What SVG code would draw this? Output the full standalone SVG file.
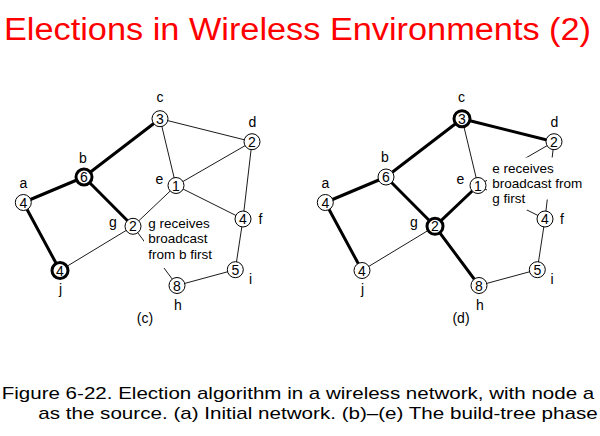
<svg xmlns="http://www.w3.org/2000/svg" width="600" height="436" viewBox="0 0 600 436">
<style>
.thin{stroke:#000;stroke-width:0.9;fill:none}
.thick{stroke:#000;stroke-width:3;fill:none;stroke-linecap:round}
.n{fill:#fff;stroke:#000;stroke-width:1}
.nb{fill:#fff;stroke:#000;stroke-width:3}
.v{font-family:"Liberation Sans",Arial,sans-serif;font-size:14px;text-anchor:middle;fill:#000}
.lb{font-family:"Liberation Sans",Arial,sans-serif;font-size:14px;text-anchor:middle;fill:#000}
.note{font-family:"Liberation Sans",Arial,sans-serif;font-size:13.5px;fill:#000}
.mask{fill:#fff;stroke:none}
.title{font-family:"Liberation Sans",Arial,sans-serif;font-size:31px;fill:#ff0000}
.cap{font-family:"Liberation Sans",Arial,sans-serif;font-size:17px;fill:#000}
</style>
<rect width="600" height="436" fill="#fff"/>
<text class="title" x="4" y="39.5" textLength="587" lengthAdjust="spacingAndGlyphs">Elections in Wireless Environments (2)</text>

<!-- Panel (c) -->
<g id="panel-c">
  <g id="c-connectors">
    <line class="thin" x1="160" y1="118.7" x2="252" y2="141.7"/>
    <line class="thin" x1="160" y1="118.7" x2="176" y2="185.5"/>
    <line class="thin" x1="252" y1="141.7" x2="176" y2="185.5"/>
    <line class="thin" x1="252" y1="141.7" x2="243" y2="219"/>
    <line class="thin" x1="176" y1="185.5" x2="243" y2="219"/>
    <line class="thin" x1="176" y1="185.5" x2="133" y2="226.3"/>
    <line class="thin" x1="133" y1="226.3" x2="60" y2="270.5"/>
    <line class="thin" x1="133" y1="226.3" x2="177" y2="285.5"/>
    <line class="thin" x1="243" y1="219" x2="235.3" y2="269.7"/>
    <line class="thin" x1="235.3" y1="269.7" x2="177" y2="285.5"/>
    <line class="thick" x1="160" y1="118.7" x2="84" y2="177"/>
    <line class="thick" x1="84" y1="177" x2="23.3" y2="202.5"/>
    <line class="thick" x1="84" y1="177" x2="133" y2="226.3"/>
    <line class="thick" x1="23.3" y1="202.5" x2="60" y2="270.5"/>
  </g>
  <g id="c-note">
    <rect class="mask" x="144" y="217" width="72" height="51"/>
    <text class="note" x="148.3" y="227.7">g receives</text>
    <text class="note" x="148.3" y="243.4">broadcast</text>
    <text class="note" x="148.3" y="259.2">from b first</text>
  </g>
  <g id="c-node-c"><circle class="n" cx="160" cy="118.7" r="8"/><text class="v" x="160" y="123.7">3</text><text class="lb" x="160" y="102">c</text></g>
  <g id="c-node-d"><circle class="n" cx="252" cy="141.7" r="8"/><text class="v" x="252" y="146.7">2</text><text class="lb" x="252.3" y="127">d</text></g>
  <g id="c-node-b"><circle class="nb" cx="84" cy="177" r="8"/><text class="v" x="84" y="182">6</text><text class="lb" x="83" y="163">b</text></g>
  <g id="c-node-e"><circle class="n" cx="176" cy="185.5" r="8"/><text class="v" x="176" y="190.5">1</text><text class="lb" x="159.5" y="183.5">e</text></g>
  <g id="c-node-a"><circle class="n" cx="23.3" cy="202.5" r="8"/><text class="v" x="23.3" y="207.5">4</text><text class="lb" x="23.3" y="188">a</text></g>
  <g id="c-node-f"><circle class="n" cx="243" cy="219" r="8"/><text class="v" x="243" y="224">4</text><text class="lb" x="260.5" y="224">f</text></g>
  <g id="c-node-g"><circle class="n" cx="133" cy="226.3" r="8"/><text class="v" x="133" y="231.3">2</text><text class="lb" x="112.8" y="227">g</text></g>
  <g id="c-node-j"><circle class="nb" cx="60" cy="270.5" r="8"/><text class="v" x="60" y="275.5">4</text><text class="lb" x="60.5" y="294">j</text></g>
  <g id="c-node-i"><circle class="n" cx="235.3" cy="269.7" r="8"/><text class="v" x="235.3" y="274.7">5</text><text class="lb" x="250.5" y="284">i</text></g>
  <g id="c-node-h"><circle class="n" cx="177" cy="285.5" r="8"/><text class="v" x="177" y="290.5">8</text><text class="lb" x="178" y="309.5">h</text></g>
  <text class="lb" x="145" y="323">(c)</text>
</g>

<!-- Panel (d) -->
<g id="panel-d" transform="translate(302,0)">
  <g id="d-connectors">
    <line class="thin" x1="160" y1="118.7" x2="176" y2="185.5"/>
    <line class="thin" x1="252" y1="141.7" x2="176" y2="185.5"/>
    <line class="thin" x1="252" y1="141.7" x2="243" y2="219"/>
    <line class="thin" x1="176" y1="185.5" x2="243" y2="219"/>
    <line class="thin" x1="133" y1="226.3" x2="60" y2="270.5"/>
    <line class="thin" x1="243" y1="219" x2="235.3" y2="269.7"/>
    <line class="thin" x1="235.3" y1="269.7" x2="177" y2="285.5"/>
    <line class="thick" x1="160" y1="118.7" x2="252" y2="141.7"/>
    <line class="thick" x1="160" y1="118.7" x2="84" y2="177"/>
    <line class="thick" x1="84" y1="177" x2="23.3" y2="202.5"/>
    <line class="thick" x1="84" y1="177" x2="133" y2="226.3"/>
    <line class="thick" x1="23.3" y1="202.5" x2="60" y2="270.5"/>
    <line class="thick" x1="133" y1="226.3" x2="176" y2="185.5"/>
    <line class="thick" x1="133" y1="226.3" x2="177" y2="285.5"/>
  </g>
  <g id="d-note">
    <rect class="mask" x="185" y="157.5" width="70" height="16"/>
    <rect class="mask" x="185" y="173.5" width="93" height="26"/>
    <rect class="mask" x="185" y="199.5" width="40" height="10.5"/>
    <text class="note" x="190.3" y="173.3">e receives</text>
    <text class="note" x="190.3" y="188.3">broadcast from</text>
    <text class="note" x="190.3" y="203.3">g first</text>
  </g>
  <g id="d-node-c"><circle class="nb" cx="160" cy="118.7" r="8"/><text class="v" x="160" y="123.7">3</text><text class="lb" x="159.5" y="102">c</text></g>
  <g id="d-node-d"><circle class="n" cx="252" cy="141.7" r="8"/><text class="v" x="252" y="146.7">2</text><text class="lb" x="252.3" y="127">d</text></g>
  <g id="d-node-b"><circle class="n" cx="84" cy="177" r="8"/><text class="v" x="84" y="182">6</text><text class="lb" x="83" y="162">b</text></g>
  <g id="d-node-e"><circle class="n" cx="176" cy="185.5" r="8"/><text class="v" x="176" y="190.5">1</text><text class="lb" x="158.5" y="183.5">e</text></g>
  <g id="d-node-a"><circle class="n" cx="23.3" cy="202.5" r="8"/><text class="v" x="23.3" y="207.5">4</text><text class="lb" x="23.3" y="188">a</text></g>
  <g id="d-node-f"><circle class="n" cx="243" cy="219" r="8"/><text class="v" x="243" y="224">4</text><text class="lb" x="260" y="223.5">f</text></g>
  <g id="d-node-g"><circle class="nb" cx="133" cy="226.3" r="8"/><text class="v" x="133" y="231.3">2</text><text class="lb" x="112" y="227">g</text></g>
  <g id="d-node-j"><circle class="n" cx="60" cy="270.5" r="8"/><text class="v" x="60" y="275.5">4</text><text class="lb" x="60.5" y="293.5">j</text></g>
  <g id="d-node-i"><circle class="n" cx="235.3" cy="269.7" r="8"/><text class="v" x="235.3" y="274.7">5</text><text class="lb" x="250" y="283.5">i</text></g>
  <g id="d-node-h"><circle class="n" cx="177" cy="285.5" r="8"/><text class="v" x="177" y="290.5">8</text><text class="lb" x="178" y="309.5">h</text></g>
  <text class="lb" x="159" y="323">(d)</text>
</g>

<text class="cap" x="1.7" y="399.3" textLength="592.6" lengthAdjust="spacingAndGlyphs">Figure 6-22. Election algorithm in a wireless network, with node a</text>
<text class="cap" x="38.3" y="419" textLength="559.4" lengthAdjust="spacingAndGlyphs">as the source. (a) Initial network. (b)–(e) The build-tree phase</text>
</svg>
